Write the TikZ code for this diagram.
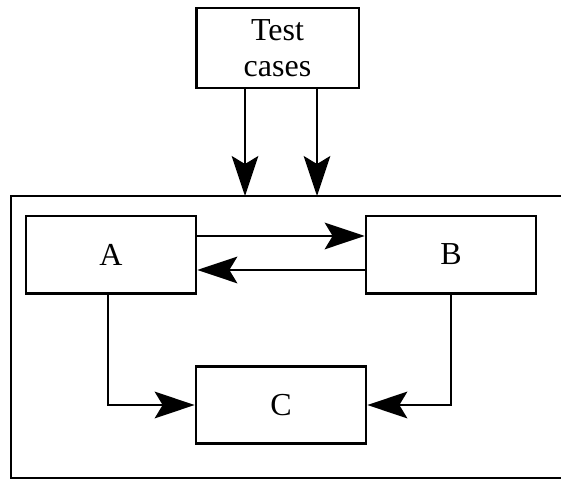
\documentclass[tikz,border=0pt]{standalone}
\usepackage{fontspec}
\setmainfont{Liberation Serif}
\usetikzlibrary{arrows,arrows.meta,calc,positioning}

\tikzset{
  unit/.style={draw,line width=2pt,minimum width=127.5pt,minimum height=58pt,
    inner sep=0pt,font=\fontsize{24}{27}\selectfont},
  flow/.style={line width=1.6pt,-{Stealth[length=30pt,width=20pt,inset=6pt]}},
}

\begin{document}
\begin{tikzpicture}[x=0.75pt,y=-0.75pt]
        \useasboundingbox (0,0) rectangle (561,479);
        % outer frame, open to the right
        \draw[line width=2pt] (565,196) -- (11,196) -- (11,478) -- (565,478);
        \coordinate (in1) at (245,196);
        \coordinate (in2) at (317,196);
        % boxes
        \node[unit,minimum width=122pt,minimum height=60pt,align=center,
          text depth=-3pt] (tc) at (277.5,48) {Test\\cases};
        \node[unit] (A) at (111,254.5) {A};
        \node[unit] (B) at (451,254.5) {B};
        \node[unit] (C) at (281,405) {C};
        % connectors
        \draw[flow] (tc.south -| in1) -- (in1);
        \draw[flow] (tc.south -| in2) -- (in2);
        \draw[flow] ([yshift=13.9pt]A.east) -- ([yshift=13.9pt]B.west);
        \draw[flow] ([yshift=-11.6pt]B.west) -- ([yshift=-11.6pt]A.east);
        \draw[flow] ([xshift=-2pt]A.south) |- (C.west);
        \draw[flow] (B.south) |- (C.east);
      \end{tikzpicture}
\end{document}
